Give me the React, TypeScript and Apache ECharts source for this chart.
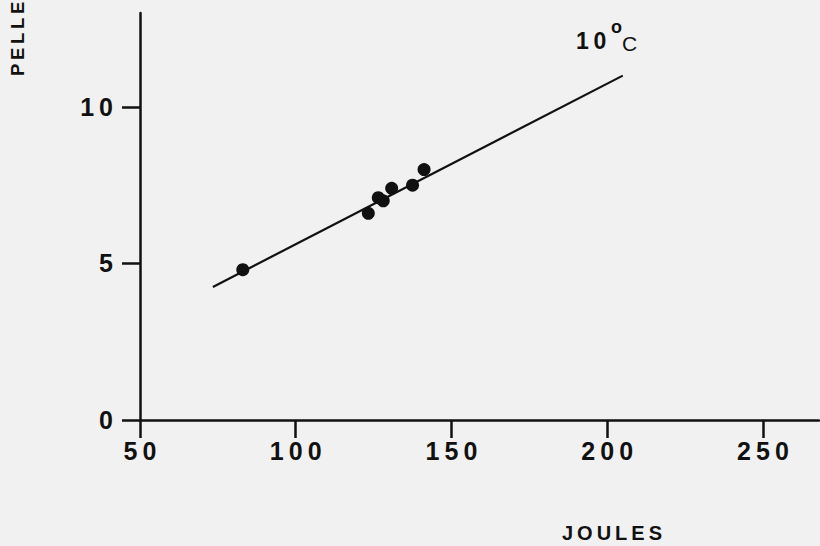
import React, { useEffect, useRef } from "react";
import * as echarts from "echarts";

// Energy intake (joules) vs pellets produced, 10 °C
const joules: number[] = [83, 123.3, 126.5, 128.1, 130.8, 137.5, 141.2];
const pellets: number[] = [4.8, 6.6, 7.1, 7.0, 7.4, 7.5, 8.0];

// Fitted regression line end points
const fitJoules: number[] = [73.4, 205];
const fitPellets: number[] = [4.25, 11.0];

const xTicks: number[] = [50, 100, 150, 200, 250];
const yTicks: number[] = [0, 5, 10];

const INK = "#111111";
const BG = "#f1f1f1";
const FONT = "'Liberation Sans', Arial, Helvetica, sans-serif";

// letter-spaced lettering, as on the hand-lettered axes
const spaced = (v: number | string) => String(v).split("").join("\u2009");

export default function App() {
  const ref = useRef<HTMLDivElement>(null);

  useEffect(() => {
    if (!ref.current) return;
    const chart = echarts.init(ref.current, null, { renderer: "svg" });

    chart.setOption({
      animation: false,
      backgroundColor: BG,
      textStyle: { fontFamily: FONT },
      grid: { left: 140, right: 1, top: 13, bottom: 126 },
      xAxis: {
        type: "value",
        min: 50,
        max: 268,
        splitLine: { show: false },
        axisLine: { show: true, lineStyle: { color: INK, width: 2.5 } },
        axisTick: {
          show: true,
          length: 18,
          customValues: xTicks,
          lineStyle: { color: INK, width: 2.5 },
        },
        axisLabel: {
          customValues: xTicks,
          margin: 18,
          color: INK,
          fontSize: 25,
          fontWeight: "bold",
          fontFamily: FONT,
          formatter: (v: number) => spaced(v),
        },
      },
      yAxis: {
        type: "value",
        min: 0,
        max: 13,
        splitLine: { show: false },
        axisLine: { show: true, lineStyle: { color: INK, width: 2.5 } },
        axisTick: {
          show: true,
          length: 18,
          customValues: yTicks,
          lineStyle: { color: INK, width: 2.5 },
        },
        axisLabel: {
          customValues: yTicks,
          margin: 27,
          color: INK,
          fontSize: 25,
          fontWeight: "bold",
          fontFamily: FONT,
          formatter: (v: number) => spaced(v),
        },
      },
      series: [
        {
          type: "line",
          data: fitJoules.map((x, i) => [x, fitPellets[i]]),
          symbol: "none",
          lineStyle: { color: INK, width: 2.2 },
          silent: true,
        },
        {
          type: "scatter",
          data: joules.map((x, i) => [x, pellets[i]]),
          symbolSize: 13,
          itemStyle: { color: INK, opacity: 1 },
        },
      ],
      graphic: [
        {
          type: "text",
          x: 612,
          y: 533,
          style: {
            text: spaced("JOULES"),
            fill: INK,
            font: `bold 20px ${FONT}`,
            align: "center",
            verticalAlign: "middle",
          },
        },
        {
          type: "text",
          x: 17.5,
          y: 76,
          rotation: Math.PI / 2,
          style: {
            text: spaced("PELLE"),
            fill: INK,
            font: `bold 18.5px ${FONT}`,
            align: "left",
            verticalAlign: "middle",
          },
        },
        {
          type: "text",
          x: 576,
          y: 41,
          style: {
            text: spaced("10"),
            fill: INK,
            font: `bold 23px ${FONT}`,
            align: "left",
            verticalAlign: "middle",
          },
        },
        {
          type: "text",
          x: 611,
          y: 27,
          style: {
            text: "o",
            fill: INK,
            font: `bold 18px ${FONT}`,
            align: "left",
            verticalAlign: "middle",
          },
        },
        {
          type: "text",
          x: 622,
          y: 43,
          style: {
            text: "C",
            fill: INK,
            font: `21px ${FONT}`,
            align: "left",
            verticalAlign: "middle",
          },
        },
      ],
    });

    return () => chart.dispose();
  }, []);

  return (
    <div
      ref={ref}
      style={{ position: "fixed", left: 0, top: 0, width: 820, height: 546 }}
    />
  );
}
